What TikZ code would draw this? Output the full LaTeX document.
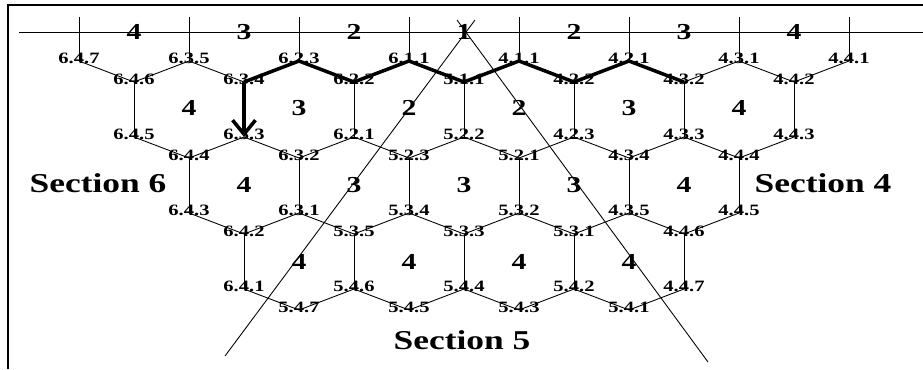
\documentclass[tikz,border=0pt]{standalone}
\usepackage{fontspec}
\setmainfont{Liberation Serif}[FakeStretch=1.3]
\usetikzlibrary{arrows.meta}

\begin{document}
\begin{tikzpicture}[
    >={Straight Barb[length=8pt, width=13pt]},
    hexline/.style={line width=0.5pt},
    route/.style={line width=2pt, line join=round},
    vlabel/.style={font=\bfseries\fontsize{9}{10}\selectfont, inner sep=0pt, yshift=0.06cm},
    cell/.style={font=\bfseries\fontsize{13}{14}\selectfont, inner sep=0pt},
    sectlabel/.style={font=\bfseries\fontsize{15.5}{17}\selectfont, inner sep=0pt}
]
    \useasboundingbox (-1.58,-6.16) rectangle (16.88,1.22);

    % Frame and top strip
    \draw[line width=1.2pt] (-1.42,-6.16) -- (-1.42,1.12) -- (16.88,1.12);
    \draw[hexline] (-1.2,0.58) -- (16.88,0.58);

    % Vertices, top level
    \coordinate (v647) at (0, 0);      \node[vlabel] (l647) at (v647) {6.4.7};
    \coordinate (v635) at (2.2, 0);    \node[vlabel] (l635) at (v635) {6.3.5};
    \coordinate (v623) at (4.4, 0);    \node[vlabel] (l623) at (v623) {6.2.3};
    \coordinate (v611) at (6.6, 0);    \node[vlabel] (l611) at (v611) {6.1.1};
    \coordinate (v411) at (8.8, 0);    \node[vlabel] (l411) at (v411) {4.1.1};
    \coordinate (v421) at (11.0, 0);   \node[vlabel] (l421) at (v421) {4.2.1};
    \coordinate (v431) at (13.2, 0);   \node[vlabel] (l431) at (v431) {4.3.1};
    \coordinate (v441) at (15.4, 0);   \node[vlabel] (l441) at (v441) {4.4.1};

    % Vertices, first hex row
    \coordinate (v646) at (1.1, -0.42);  \node[vlabel] (l646) at (v646) {6.4.6};
    \coordinate (v634) at (3.3, -0.42);  \node[vlabel] (l634) at (v634) {6.3.4};
    \coordinate (v622) at (5.5, -0.42);  \node[vlabel] (l622) at (v622) {6.2.2};
    \coordinate (v511) at (7.7, -0.42);  \node[vlabel] (l511) at (v511) {5.1.1};
    \coordinate (v422) at (9.9, -0.42);  \node[vlabel] (l422) at (v422) {4.2.2};
    \coordinate (v432) at (12.1, -0.42); \node[vlabel] (l432) at (v432) {4.3.2};
    \coordinate (v442) at (14.3, -0.42); \node[vlabel] (l442) at (v442) {4.4.2};

    \coordinate (v645) at (1.1, -1.52);  \node[vlabel] (l645) at (v645) {6.4.5};
    \coordinate (v633) at (3.3, -1.52);  \node[vlabel] (l633) at (v633) {6.3.3};
    \coordinate (v621) at (5.5, -1.52);  \node[vlabel] (l621) at (v621) {6.2.1};
    \coordinate (v522) at (7.7, -1.52);  \node[vlabel] (l522) at (v522) {5.2.2};
    \coordinate (v423) at (9.9, -1.52);  \node[vlabel] (l423) at (v423) {4.2.3};
    \coordinate (v433) at (12.1, -1.52); \node[vlabel] (l433) at (v433) {4.3.3};
    \coordinate (v443) at (14.3, -1.52); \node[vlabel] (l443) at (v443) {4.4.3};

    % Vertices, second hex row
    \coordinate (v644) at (2.2, -1.94);  \node[vlabel] (l644) at (v644) {6.4.4};
    \coordinate (v632) at (4.4, -1.94);  \node[vlabel] (l632) at (v632) {6.3.2};
    \coordinate (v523) at (6.6, -1.94);  \node[vlabel] (l523) at (v523) {5.2.3};
    \coordinate (v521) at (8.8, -1.94);  \node[vlabel] (l521) at (v521) {5.2.1};
    \coordinate (v434) at (11.0, -1.94); \node[vlabel] (l434) at (v434) {4.3.4};
    \coordinate (v444) at (13.2, -1.94); \node[vlabel] (l444) at (v444) {4.4.4};

    \coordinate (v643) at (2.2, -3.04);  \node[vlabel] (l643) at (v643) {6.4.3};
    \coordinate (v631) at (4.4, -3.04);  \node[vlabel] (l631) at (v631) {6.3.1};
    \coordinate (v534) at (6.6, -3.04);  \node[vlabel] (l534) at (v534) {5.3.4};
    \coordinate (v532) at (8.8, -3.04);  \node[vlabel] (l532) at (v532) {5.3.2};
    \coordinate (v435) at (11.0, -3.04); \node[vlabel] (l435) at (v435) {4.3.5};
    \coordinate (v445) at (13.2, -3.04); \node[vlabel] (l445) at (v445) {4.4.5};

    % Vertices, third hex row
    \coordinate (v642) at (3.3, -3.46);  \node[vlabel] (l642) at (v642) {6.4.2};
    \coordinate (v535) at (5.5, -3.46);  \node[vlabel] (l535) at (v535) {5.3.5};
    \coordinate (v533) at (7.7, -3.46);  \node[vlabel] (l533) at (v533) {5.3.3};
    \coordinate (v531) at (9.9, -3.46);  \node[vlabel] (l531) at (v531) {5.3.1};
    \coordinate (v446) at (12.1, -3.46); \node[vlabel] (l446) at (v446) {4.4.6};

    \coordinate (v641) at (3.3, -4.56);  \node[vlabel] (l641) at (v641) {6.4.1};
    \coordinate (v546) at (5.5, -4.56);  \node[vlabel] (l546) at (v546) {5.4.6};
    \coordinate (v544) at (7.7, -4.56);  \node[vlabel] (l544) at (v544) {5.4.4};
    \coordinate (v542) at (9.9, -4.56);  \node[vlabel] (l542) at (v542) {5.4.2};
    \coordinate (v447) at (12.1, -4.56); \node[vlabel] (l447) at (v447) {4.4.7};

    \coordinate (v547) at (4.4, -4.98);  \node[vlabel] (l547) at (v547) {5.4.7};
    \coordinate (v545) at (6.6, -4.98);  \node[vlabel] (l545) at (v545) {5.4.5};
    \coordinate (v543) at (8.8, -4.98);  \node[vlabel] (l543) at (v543) {5.4.3};
    \coordinate (v541) at (11.0, -4.98); \node[vlabel] (l541) at (v541) {5.4.1};

    % Ticks up into the top strip
    \draw[hexline] (v647) -- ++(0,0.88);
    \draw[hexline] (v635) -- ++(0,0.88);
    \draw[hexline] (v623) -- ++(0,0.88);
    \draw[hexline] (v611) -- ++(0,0.88);
    \draw[hexline] (v411) -- ++(0,0.88);
    \draw[hexline] (v421) -- ++(0,0.88);
    \draw[hexline] (v431) -- ++(0,0.88);
    \draw[hexline] (v441) -- ++(0,0.88);

    % Hex edges
    \draw[hexline] (v647) -- (v646) -- (v635) -- (v634);
    \draw[hexline] (v432) -- (v431) -- (v442) -- (v441);
    \draw[hexline] (v646) -- (v645);
    \draw[hexline] (v622) -- (v621);
    \draw[hexline] (v511) -- (v522);
    \draw[hexline] (v422) -- (v423);
    \draw[hexline] (v432) -- (v433);
    \draw[hexline] (v442) -- (v443);
    \draw[hexline] (v645) -- (v644) -- (v633) -- (v632) -- (v621) -- (v523) -- (v522)
        -- (v521) -- (v423) -- (v434) -- (v433) -- (v444) -- (v443);
    \draw[hexline] (v644) -- (v643);
    \draw[hexline] (v632) -- (v631);
    \draw[hexline] (v523) -- (v534);
    \draw[hexline] (v521) -- (v532);
    \draw[hexline] (v434) -- (v435);
    \draw[hexline] (v444) -- (v445);
    \draw[hexline] (v643) -- (v642) -- (v631) -- (v535) -- (v534) -- (v533) -- (v532)
        -- (v531) -- (v435) -- (v446) -- (v445);
    \draw[hexline] (v642) -- (v641);
    \draw[hexline] (v535) -- (v546);
    \draw[hexline] (v533) -- (v544);
    \draw[hexline] (v531) -- (v542);
    \draw[hexline] (v446) -- (v447);
    \draw[hexline] (v641) -- (v547) -- (v546) -- (v545) -- (v544) -- (v543) -- (v542)
        -- (v541) -- (v447);

    % Bold route and arrow
    \draw[route] (v634) -- (v623) -- (v622) -- (v611) -- (v511) -- (v411) -- (v422)
        -- (v421) -- (v432);
    \draw[route, ->] (v634) -- (v633);

    % Section boundaries
    \coordinate (d1a) at (7.92, 0.82);
    \coordinate (d1b) at (2.92, -5.9);
    \coordinate (d2a) at (7.56, 0.82);
    \coordinate (d2b) at (12.58, -6.02);
    \draw[hexline] (d1a) -- (d1b);
    \draw[hexline] (d2a) -- (d2b);

    % Cell numbers
    \node[cell] (t1) at (1.1, 0.58)  {4};
    \node[cell] (t2) at (3.3, 0.58)  {3};
    \node[cell] (t3) at (5.5, 0.58)  {2};
    \node[cell] (t4) at (7.7, 0.58)  {1};
    \node[cell] (t5) at (9.9, 0.58)  {2};
    \node[cell] (t6) at (12.1, 0.58) {3};
    \node[cell] (t7) at (14.3, 0.58) {4};

    \node[cell] (a1) at (2.2, -0.94)  {4};
    \node[cell] (a2) at (4.4, -0.94)  {3};
    \node[cell] (a3) at (6.6, -0.94)  {2};
    \node[cell] (a4) at (8.8, -0.94)  {2};
    \node[cell] (a5) at (11.0, -0.94) {3};
    \node[cell] (a6) at (13.2, -0.94) {4};

    \node[cell] (b1) at (3.3, -2.48)  {4};
    \node[cell] (b2) at (5.5, -2.48)  {3};
    \node[cell] (b3) at (7.7, -2.48)  {3};
    \node[cell] (b4) at (9.9, -2.48)  {3};
    \node[cell] (b5) at (12.1, -2.48) {4};

    \node[cell] (c1) at (4.4, -4.02)  {4};
    \node[cell] (c2) at (6.6, -4.02)  {4};
    \node[cell] (c3) at (8.8, -4.02)  {4};
    \node[cell] (c4) at (11.0, -4.02) {4};

    % Section names
    \node[sectlabel] (s6) at (0.38, -2.44)  {Section 6};
    \node[sectlabel] (s4) at (14.88, -2.44) {Section 4};
    \node[sectlabel] (s5) at (7.66, -5.58)  {Section 5};
\end{tikzpicture}
\end{document}
